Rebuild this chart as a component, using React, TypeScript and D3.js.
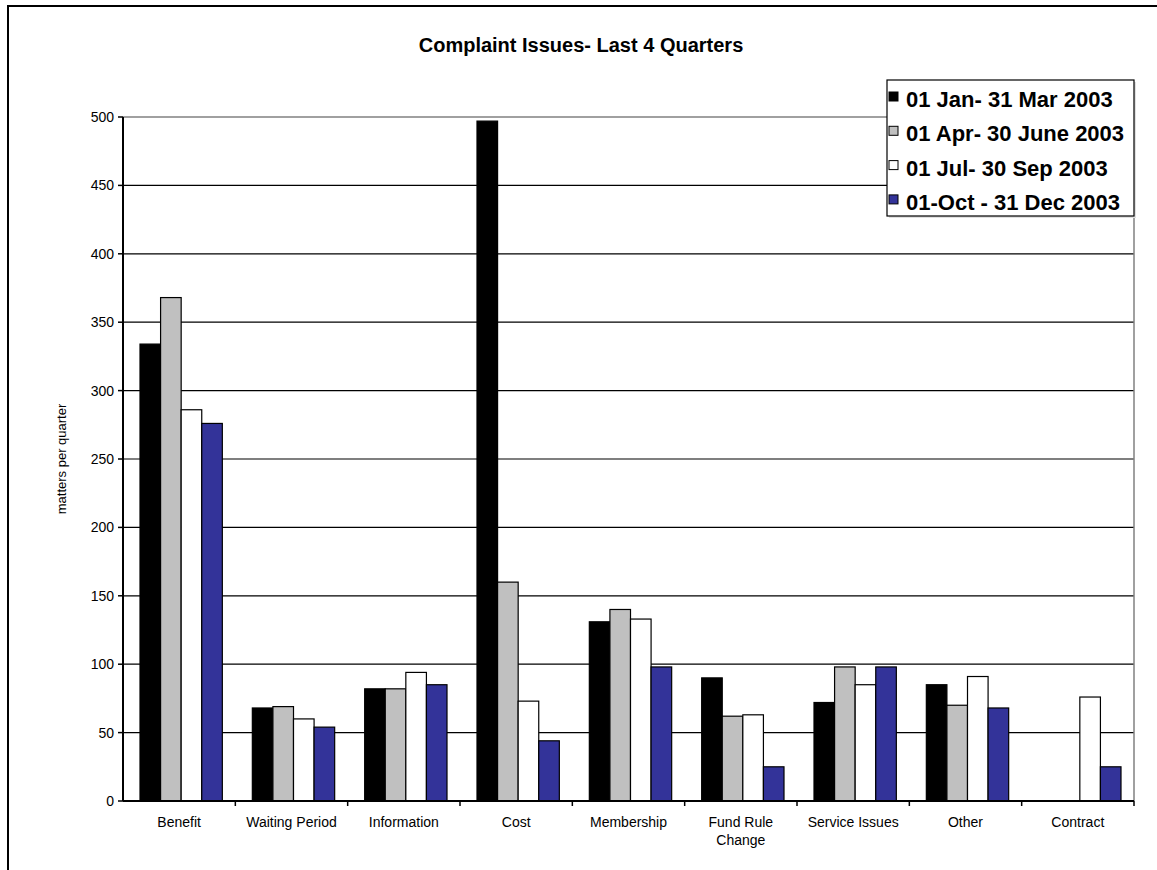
import React from "react";
import * as d3 from "d3";

const categories = [
  "Benefit",
  "Waiting Period",
  "Information",
  "Cost",
  "Membership",
  "Fund Rule Change",
  "Service Issues",
  "Other",
  "Contract",
];

const seriesNames = [
  "01 Jan- 31 Mar 2003",
  "01 Apr- 30 June 2003",
  "01 Jul- 30 Sep 2003",
  "01-Oct - 31 Dec 2003",
];

const q1 = [334, 68, 82, 497, 131, 90, 72, 85, 0];
const q2 = [368, 69, 82, 160, 140, 62, 98, 70, 0];
const q3 = [286, 60, 94, 73, 133, 63, 85, 91, 76];
const q4 = [276, 54, 85, 44, 98, 25, 98, 68, 25];

const seriesValues = [q1, q2, q3, q4];
const colors = ["#000000", "#C0C0C0", "#FFFFFF", "#333399"];
const yTicks = [0, 50, 100, 150, 200, 250, 300, 350, 400, 450, 500];

const W = 1157;
const H = 870;
const left = 123;
const right = 1134;
const top = 117;
const bottom = 801;

const font = "Arial, 'Liberation Sans', sans-serif";

export default function App() {
  const y = d3.scaleLinear().domain([0, 500]).range([bottom, top]);
  const x0 = d3.scaleBand<string>().domain(categories).range([left, right]);
  const bw = x0.bandwidth();
  const x1 = d3
    .scaleBand<number>()
    .domain(d3.range(seriesNames.length))
    .range([17, bw - 13]);

  return (
    <svg
      width={W}
      height={H}
      style={{ position: "absolute", left: 0, top: 0, background: "#fff" }}
      fontFamily={font}
    >
      <rect x={0} y={0} width={W} height={H} fill="#fff" />
      <rect x={8} y={6} width={1200} height={900} fill="none" stroke="#000" strokeWidth={2} />

      <text x={581} y={52} textAnchor="middle" fontWeight="bold" fontSize={20}>
        Complaint Issues- Last 4 Quarters
      </text>

      {/* gridlines */}
      {yTicks
        .filter((t) => t > 0 && t < 500)
        .map((t) => (
          <line key={t} x1={left} x2={right} y1={y(t)} y2={y(t)} stroke="#000" strokeWidth={1.2} />
        ))}
      {/* plot border top / right */}
      <line x1={left} x2={right} y1={y(500)} y2={y(500)} stroke="#808080" strokeWidth={1.5} />
      <line x1={right} x2={right} y1={y(500)} y2={y(0)} stroke="#808080" strokeWidth={1.5} />

      {/* bars */}
      {categories.map((c, ci) => (
        <g key={c} transform={`translate(${x0(c)},0)`}>
          {seriesValues.map((vals, si) =>
            vals[ci] > 0 ? (
              <rect
                key={si}
                x={x1(si)}
                y={y(vals[ci])}
                width={x1.bandwidth()}
                height={y(0) - y(vals[ci])}
                fill={colors[si]}
                stroke="#000"
                strokeWidth={1.2}
              />
            ) : null
          )}
        </g>
      ))}

      {/* y axis */}
      <line x1={left} x2={left} y1={top} y2={bottom} stroke="#000" strokeWidth={2} />
      {yTicks.map((t) => (
        <g key={t}>
          <line x1={left - 5} x2={left} y1={y(t)} y2={y(t)} stroke="#000" strokeWidth={1.5} />
          <text x={left - 9} y={y(t) + 5} textAnchor="end" fontSize={14}>
            {t}
          </text>
        </g>
      ))}
      <text
        transform={`translate(66,${(top + bottom) / 2}) rotate(-90)`}
        textAnchor="middle"
        fontSize={13}
      >
        matters per quarter
      </text>

      {/* x axis */}
      <line x1={left} x2={right} y1={bottom} y2={bottom} stroke="#000" strokeWidth={2} />
      {categories.map((c) => (
        <line
          key={c}
          x1={(x0(c) as number) + bw}
          x2={(x0(c) as number) + bw}
          y1={bottom}
          y2={bottom + 5}
          stroke="#000"
          strokeWidth={1.5}
        />
      ))}
      {categories.map((c) => {
        const cx = (x0(c) as number) + bw / 2;
        const lines = c === "Fund Rule Change" ? ["Fund Rule", "Change"] : [c];
        return (
          <text key={c} x={cx} y={827} textAnchor="middle" fontSize={14}>
            {lines.map((l, i) => (
              <tspan key={i} x={cx} dy={i === 0 ? 0 : 18}>
                {l}
              </tspan>
            ))}
          </text>
        );
      })}

      {/* legend */}
      <rect x={889} y={82} width={247} height={136} fill="#e0e0e0" />
      <rect x={887} y={80} width={247} height={136} fill="#fff" stroke="#000" strokeWidth={1.2} />
      {seriesNames.map((s, i) => {
        const base = 107 + i * 34.3;
        return (
          <g key={s}>
            <rect x={889} y={base - 15} width={9} height={9} fill={colors[i]} stroke="#000" strokeWidth={1} />
            <text x={906} y={base} fontSize={22} fontWeight="bold">
              {s}
            </text>
          </g>
        );
      })}
    </svg>
  );
}
